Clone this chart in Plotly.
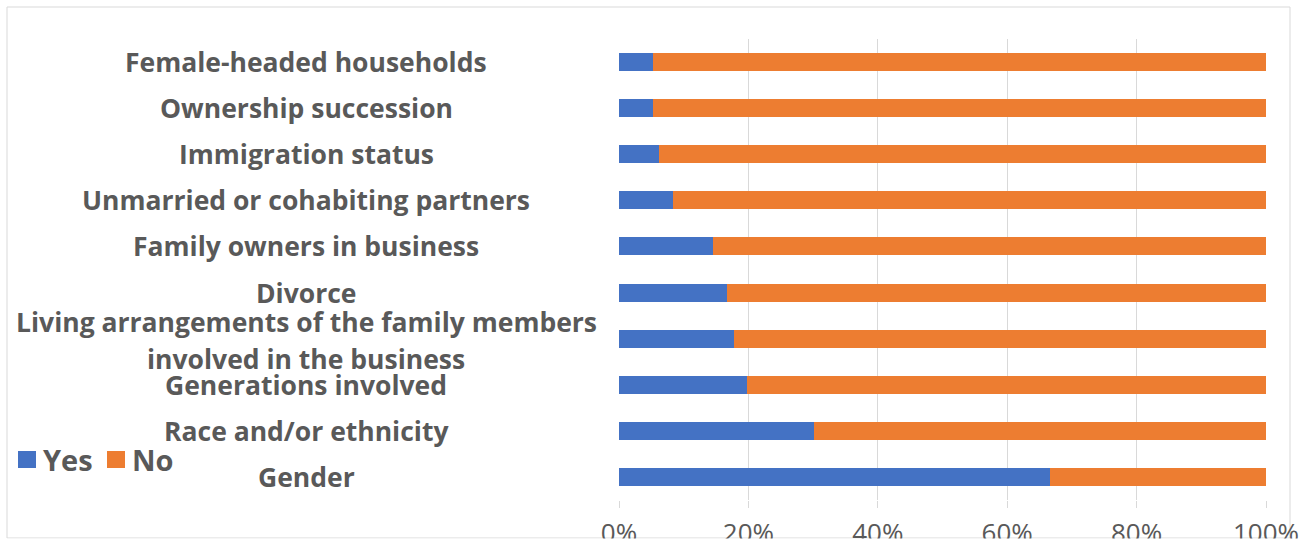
import plotly.graph_objects as go

# Data (top-to-bottom order as displayed)
categories = [
    "Female-headed households",
    "Ownership succession",
    "Immigration status",
    "Unmarried or cohabiting partners",
    "Family owners in business",
    "Divorce",
    "Living arrangements of the family members involved in the business",
    "Generations involved",
    "Race and/or ethnicity",
    "Gender",
]
yes_share = [0.052, 0.052, 0.062, 0.083, 0.146, 0.167, 0.178, 0.198, 0.302, 0.666]
no_share = [round(1 - v, 3) for v in yes_share]
tick_vals = [0, 0.2, 0.4, 0.6, 0.8, 1.0]
tick_text = ["0%", "20%", "40%", "60%", "80%", "100%"]
series_names = ["Yes", "No"]

BLUE = "#4472C4"
ORANGE = "#ED7D31"
TEXT = "#595959"
GRID = "#D9D9D9"

W, H = 1305, 546
L, R, T, B = 619, 39, 39, 46
PW, PH = W - L - R, H - T - B


def px_x(px):
    return (px - L) / PW


def px_y(py):
    return (H - B - py) / PH


fig = go.Figure()
fig.add_trace(go.Bar(y=categories, x=yes_share, orientation="h", name=series_names[0],
                     marker=dict(color=BLUE, line=dict(width=0)), showlegend=False))
fig.add_trace(go.Bar(y=categories, x=no_share, orientation="h", name=series_names[1],
                     marker=dict(color=ORANGE, line=dict(width=0)), showlegend=False))

# Category labels as centred annotations
label_font = dict(family="Open Sans", size=26.5, color=TEXT, weight="bold")
LABEL_X = px_x(306)
for cat in categories:
    if cat.startswith("Living arrangements"):
        fig.add_annotation(x=LABEL_X, xref="paper", y=cat, yref="y", yshift=17,
                           text="Living arrangements of the family members",
                           showarrow=False, font=label_font, xanchor="center")
        fig.add_annotation(x=LABEL_X, xref="paper", y=cat, yref="y", yshift=-20,
                           text="involved in the business",
                           showarrow=False, font=label_font, xanchor="center")
    else:
        fig.add_annotation(x=LABEL_X, xref="paper", y=cat, yref="y",
                           text=cat, showarrow=False, font=label_font, xanchor="center")

# Legend (swatches + labels)
legend_font = dict(family="Open Sans", size=29, color=TEXT, weight="bold")
legend_items = [(series_names[0], BLUE, 18, 41), (series_names[1], ORANGE, 107, 130)]
for nm, col, sx, tx in legend_items:
    fig.add_shape(type="rect", xref="paper", yref="paper",
                  x0=px_x(sx), x1=px_x(sx + 18), y0=px_y(468), y1=px_y(451),
                  line=dict(width=0), fillcolor=col)
    fig.add_annotation(x=px_x(tx), xref="paper", y=px_y(459), yref="paper",
                       text=nm, showarrow=False, font=legend_font,
                       xanchor="left", yanchor="middle")

# chart border
fig.add_shape(type="rect", xref="paper", yref="paper",
              x0=px_x(7), x1=px_x(1290), y0=px_y(538), y1=px_y(7),
              line=dict(color=GRID, width=1), fillcolor="rgba(0,0,0,0)", layer="below")
# clip area below the border
fig.add_shape(type="rect", xref="paper", yref="paper",
              x0=px_x(0), x1=px_x(W), y0=px_y(H + 5), y1=px_y(538.5),
              line=dict(width=0), fillcolor="white", layer="above")

fig.update_layout(
    template="none",
    width=W, height=H,
    margin=dict(l=L, r=R, t=T, b=B, pad=0, autoexpand=False),
    barmode="stack",
    bargap=0.61,
    showlegend=False,
    plot_bgcolor="white",
    paper_bgcolor="white",
    font=dict(family="Open Sans", color=TEXT),
    xaxis=dict(range=[0, 1], tickvals=tick_vals, ticktext=tick_text,
               showgrid=True, gridcolor=GRID, gridwidth=1, zeroline=False,
               ticks="outside", ticklen=7, tickcolor=GRID,
               tickfont=dict(family="Open Sans", size=26, color=TEXT),
               ticklabelstandoff=3, showline=False, fixedrange=True, automargin=False),
    yaxis=dict(type="category", autorange="reversed", showticklabels=False,
               showgrid=False, zeroline=False, showline=False, ticks="", automargin=False),
)

fig.write_html("out.html")
